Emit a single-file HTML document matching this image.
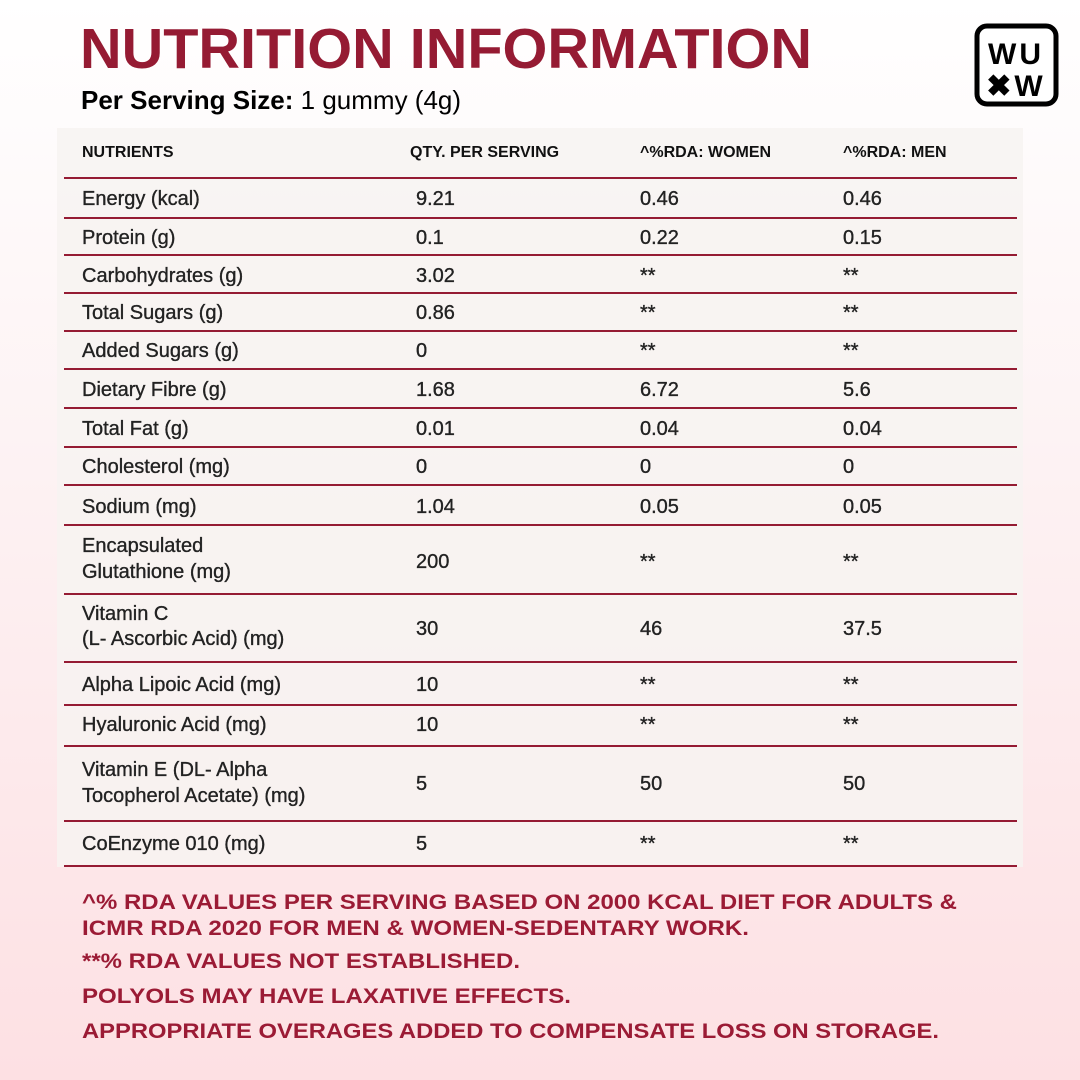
<!DOCTYPE html>
<html><head><meta charset="utf-8"><style>
html,body{margin:0;padding:0;width:1080px;height:1080px;overflow:hidden}
body{background:linear-gradient(#ffffff 0%,#fdf3f4 40%,#fde0e3 100%);}
svg{display:block}
text{font-family:"Liberation Sans",sans-serif}
.h{font-weight:bold;font-size:16px;fill:#111}
.t{font-size:20px;fill:#222;stroke:#222;stroke-width:0.35px}
.f{font-weight:bold;font-size:21px;fill:#9b1b35}
</style></head><body>
<svg width="1080" height="1080" viewBox="0 0 1080 1080">
<text x="80" y="68" font-size="57" font-weight="bold" fill="#951b33" textLength="732" lengthAdjust="spacingAndGlyphs">NUTRITION INFORMATION</text>
<text x="81" y="109" font-size="26" fill="#000"><tspan font-weight="bold">Per Serving Size:</tspan> 1 gummy (4g)</text>
<rect x="977" y="26" width="79" height="78" rx="10" fill="#fff" stroke="#000" stroke-width="5"/>
<text x="1016" y="64" font-size="30" font-weight="bold" text-anchor="middle" fill="#000" letter-spacing="3">WU</text>
<text x="1016" y="96" font-size="30" font-weight="bold" text-anchor="middle" fill="#000" letter-spacing="3">✖W</text>
<rect x="57" y="128" width="966" height="739" fill="#f7f3f1" opacity="0.85"/>
<text class="h" x="82" y="157">NUTRIENTS</text>
<text class="h" x="410" y="157">QTY. PER SERVING</text>
<text class="h" x="640" y="157">^%RDA: WOMEN</text>
<text class="h" x="843" y="157">^%RDA: MEN</text>
<g stroke="#951b33" stroke-width="2">
<line x1="64" x2="1017" y1="178" y2="178"/><line x1="64" x2="1017" y1="218" y2="218"/>
<line x1="64" x2="1017" y1="255" y2="255"/><line x1="64" x2="1017" y1="293" y2="293"/>
<line x1="64" x2="1017" y1="331" y2="331"/><line x1="64" x2="1017" y1="369" y2="369"/>
<line x1="64" x2="1017" y1="408" y2="408"/><line x1="64" x2="1017" y1="447" y2="447"/>
<line x1="64" x2="1017" y1="485" y2="485"/><line x1="64" x2="1017" y1="525" y2="525"/>
<line x1="64" x2="1017" y1="594" y2="594"/><line x1="64" x2="1017" y1="662" y2="662"/>
<line x1="64" x2="1017" y1="705" y2="705"/><line x1="64" x2="1017" y1="746" y2="746"/>
<line x1="64" x2="1017" y1="821" y2="821"/><line x1="64" x2="1017" y1="866" y2="866"/>
</g>
<g>
<text class="t" x="82" y="205">Energy (kcal)</text><text class="t" x="416" y="205">9.21</text><text class="t" x="640" y="205">0.46</text><text class="t" x="843" y="205">0.46</text>
<text class="t" x="82" y="244">Protein (g)</text><text class="t" x="416" y="244">0.1</text><text class="t" x="640" y="244">0.22</text><text class="t" x="843" y="244">0.15</text>
<text class="t" x="82" y="282">Carbohydrates (g)</text><text class="t" x="416" y="282">3.02</text><text class="t" x="640" y="282">**</text><text class="t" x="843" y="282">**</text>
<text class="t" x="82" y="319">Total Sugars (g)</text><text class="t" x="416" y="319">0.86</text><text class="t" x="640" y="319">**</text><text class="t" x="843" y="319">**</text>
<text class="t" x="82" y="357">Added Sugars (g)</text><text class="t" x="416" y="357">0</text><text class="t" x="640" y="357">**</text><text class="t" x="843" y="357">**</text>
<text class="t" x="82" y="396">Dietary Fibre (g)</text><text class="t" x="416" y="396">1.68</text><text class="t" x="640" y="396">6.72</text><text class="t" x="843" y="396">5.6</text>
<text class="t" x="82" y="435">Total Fat (g)</text><text class="t" x="416" y="435">0.01</text><text class="t" x="640" y="435">0.04</text><text class="t" x="843" y="435">0.04</text>
<text class="t" x="82" y="473">Cholesterol (mg)</text><text class="t" x="416" y="473">0</text><text class="t" x="640" y="473">0</text><text class="t" x="843" y="473">0</text>
<text class="t" x="82" y="513">Sodium (mg)</text><text class="t" x="416" y="513">1.04</text><text class="t" x="640" y="513">0.05</text><text class="t" x="843" y="513">0.05</text>
<text class="t" x="82" y="552">Encapsulated</text><text class="t" x="82" y="578">Glutathione (mg)</text><text class="t" x="416" y="568">200</text><text class="t" x="640" y="568">**</text><text class="t" x="843" y="568">**</text>
<text class="t" x="82" y="620">Vitamin C</text><text class="t" x="82" y="645">(L- Ascorbic Acid) (mg)</text><text class="t" x="416" y="635">30</text><text class="t" x="640" y="635">46</text><text class="t" x="843" y="635">37.5</text>
<text class="t" x="82" y="691">Alpha Lipoic Acid (mg)</text><text class="t" x="416" y="691">10</text><text class="t" x="640" y="691">**</text><text class="t" x="843" y="691">**</text>
<text class="t" x="82" y="731">Hyaluronic Acid (mg)</text><text class="t" x="416" y="731">10</text><text class="t" x="640" y="731">**</text><text class="t" x="843" y="731">**</text>
<text class="t" x="82" y="776">Vitamin E (DL- Alpha</text><text class="t" x="82" y="802">Tocopherol Acetate) (mg)</text><text class="t" x="416" y="790">5</text><text class="t" x="640" y="790">50</text><text class="t" x="843" y="790">50</text>
<text class="t" x="82" y="850">CoEnzyme 010 (mg)</text><text class="t" x="416" y="850">5</text><text class="t" x="640" y="850">**</text><text class="t" x="843" y="850">**</text>
</g>
<text class="f" x="82" y="909" textLength="875" lengthAdjust="spacingAndGlyphs">^% RDA VALUES PER SERVING BASED ON 2000 KCAL DIET FOR ADULTS &amp;</text>
<text class="f" x="82" y="935" textLength="667" lengthAdjust="spacingAndGlyphs">ICMR RDA 2020 FOR MEN &amp; WOMEN-SEDENTARY WORK.</text>
<text class="f" x="82" y="968" textLength="438" lengthAdjust="spacingAndGlyphs">**% RDA VALUES NOT ESTABLISHED.</text>
<text class="f" x="82" y="1003" textLength="489" lengthAdjust="spacingAndGlyphs">POLYOLS MAY HAVE LAXATIVE EFFECTS.</text>
<text class="f" x="82" y="1038" textLength="857" lengthAdjust="spacingAndGlyphs">APPROPRIATE OVERAGES ADDED TO COMPENSATE LOSS ON STORAGE.</text>
</svg>
</body></html>
